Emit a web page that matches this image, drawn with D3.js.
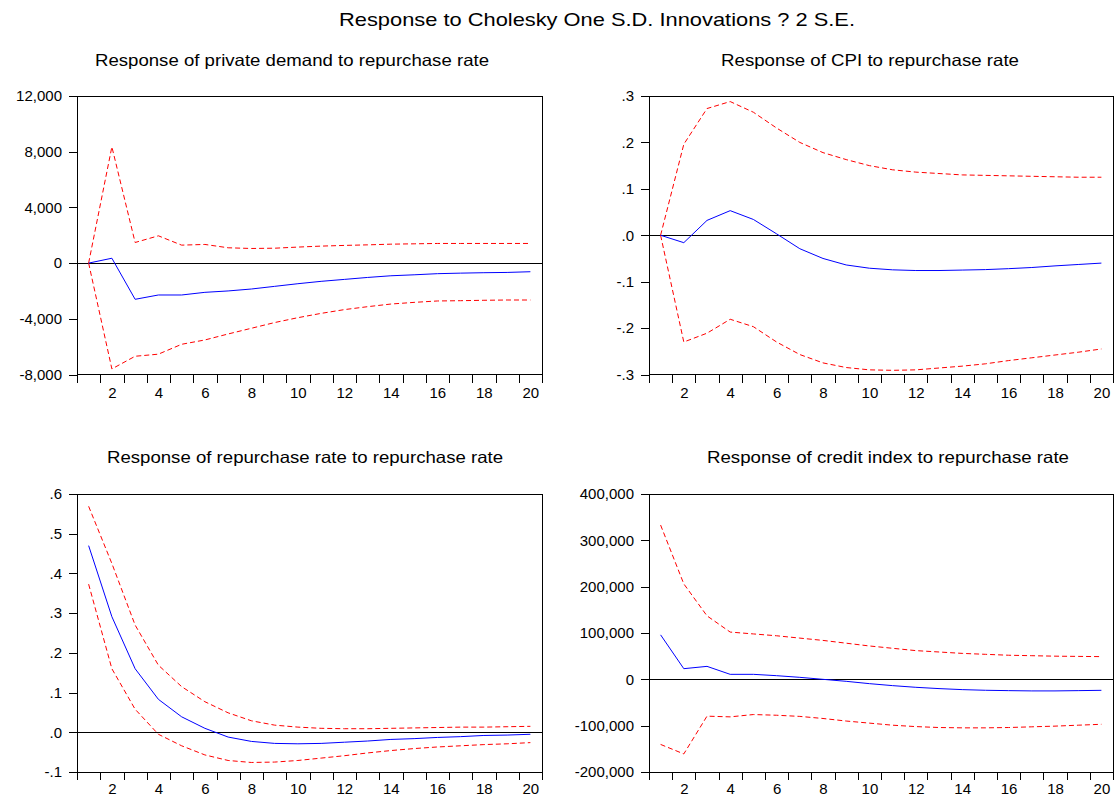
<!DOCTYPE html>
<html>
<head>
<meta charset="utf-8">
<script src="https://cdn.jsdelivr.net/npm/d3@7/dist/d3.min.js"></script>
<style>
  html, body { margin: 0; padding: 0; background: #fff; }
  svg { display: block; font-family: "Liberation Sans", Arial, sans-serif; }
</style>
</head>
<body>
<svg id="chart" width="1114" height="797"></svg>
<script>
// Impulse horizon
const periods = d3.range(1, 21);

// Response of private demand to repurchase rate
const pdResp  = [0, 350, -2600, -2290, -2290, -2100, -2000, -1860, -1670, -1480, -1310, -1170, -1030, -910, -840, -760, -720, -690, -670, -620];
const pdUpper = [0, 8350, 1480, 1960, 1290, 1340, 1100, 1050, 1070, 1150, 1220, 1270, 1310, 1360, 1385, 1410, 1410, 1410, 1410, 1410];
const pdLower = [0, -7600, -6690, -6540, -5830, -5520, -5090, -4680, -4270, -3920, -3610, -3340, -3130, -2940, -2820, -2720, -2700, -2670, -2650, -2650];
const pdTicks = [-8000, -4000, 0, 4000, 8000, 12000];
const pdTickLabels = ["-8,000", "-4,000", "0", "4,000", "8,000", "12,000"];

// Response of CPI to repurchase rate
const cpiResp  = [0, -0.016, 0.032, 0.053, 0.034, 0.003, -0.029, -0.050, -0.064, -0.071, -0.0745, -0.076, -0.076, -0.075, -0.074, -0.072, -0.0695, -0.066, -0.063, -0.060];
const cpiUpper = [0, 0.196, 0.273, 0.288, 0.265, 0.231, 0.200, 0.178, 0.163, 0.150, 0.141, 0.136, 0.133, 0.130, 0.129, 0.128, 0.127, 0.126, 0.125, 0.125];
const cpiLower = [0, -0.230, -0.211, -0.181, -0.197, -0.230, -0.257, -0.275, -0.285, -0.290, -0.291, -0.290, -0.286, -0.282, -0.277, -0.270, -0.264, -0.258, -0.252, -0.245];
const cpiTicks = [-0.3, -0.2, -0.1, 0, 0.1, 0.2, 0.3];
const cpiTickLabels = ["-.3", "-.2", "-.1", ".0", ".1", ".2", ".3"];

// Response of repurchase rate to repurchase rate
const rrResp  = [0.470, 0.291, 0.160, 0.083, 0.039, 0.010, -0.012, -0.023, -0.028, -0.029, -0.028, -0.025, -0.022, -0.018, -0.016, -0.013, -0.011, -0.008, -0.007, -0.005];
const rrUpper = [0.569, 0.425, 0.270, 0.169, 0.115, 0.077, 0.049, 0.029, 0.018, 0.013, 0.010, 0.009, 0.009, 0.010, 0.011, 0.012, 0.013, 0.013, 0.014, 0.015];
const rrLower = [0.373, 0.160, 0.058, -0.005, -0.034, -0.057, -0.071, -0.076, -0.075, -0.071, -0.065, -0.059, -0.052, -0.046, -0.041, -0.037, -0.034, -0.031, -0.029, -0.026];
const rrTicks = [-0.1, 0, 0.1, 0.2, 0.3, 0.4, 0.5, 0.6];
const rrTickLabels = ["-.1", ".0", ".1", ".2", ".3", ".4", ".5", ".6"];

// Response of credit index to repurchase rate
const ciResp  = [96000, 23000, 28000, 10800, 10800, 7900, 4300, 0, -4300, -9300, -13600, -17200, -20000, -22200, -23600, -24400, -25000, -25000, -24400, -23700];
const ciUpper = [333000, 206000, 137000, 102000, 98000, 94000, 89000, 84000, 78000, 72000, 67000, 62000, 59000, 56000, 54000, 52000, 51000, 50000, 49500, 49000];
const ciLower = [-140500, -161000, -79500, -81000, -76000, -77500, -80000, -84500, -90000, -94500, -99000, -102000, -104000, -104700, -104700, -104000, -102500, -101000, -99000, -97000];
const ciTicks = [-200000, -100000, 0, 100000, 200000, 300000, 400000];
const ciTickLabels = ["-200,000", "-100,000", "0", "100,000", "200,000", "300,000", "400,000"];

const xLabelTicks = [2, 4, 6, 8, 10, 12, 14, 16, 18, 20];

const mainTitle = "Response to Cholesky One S.D. Innovations ? 2 S.E.";

const panels = [
  { title: "Response of private demand to repurchase rate", resp: pdResp, upper: pdUpper, lower: pdLower,
    ticks: pdTicks, labels: pdTickLabels, box: { x0: 77, x1: 542, y0: 96, y1: 374.5 },
    titleX: 292, titleY: 65.5, titleW: 394, labelPad: 13 },
  { title: "Response of CPI to repurchase rate", resp: cpiResp, upper: cpiUpper, lower: cpiLower,
    ticks: cpiTicks, labels: cpiTickLabels, box: { x0: 649, x1: 1113, y0: 96, y1: 374.5 },
    titleX: 870, titleY: 65.5, titleW: 298, labelPad: 13 },
  { title: "Response of repurchase rate to repurchase rate", resp: rrResp, upper: rrUpper, lower: rrLower,
    ticks: rrTicks, labels: rrTickLabels, box: { x0: 77, x1: 542, y0: 494, y1: 772 },
    titleX: 305, titleY: 463, titleW: 396, labelPad: 11 },
  { title: "Response of credit index to repurchase rate", resp: ciResp, upper: ciUpper, lower: ciLower,
    ticks: ciTicks, labels: ciTickLabels, box: { x0: 649, x1: 1113, y0: 494, y1: 772 },
    titleX: 888, titleY: 463, titleW: 362, labelPad: 11 }
];

const svg = d3.select("#chart");

svg.append("text")
  .attr("x", 597).attr("y", 26)
  .attr("text-anchor", "middle")
  .attr("font-size", 19)
  .attr("textLength", 516)
  .attr("lengthAdjust", "spacingAndGlyphs")
  .attr("fill", "#000")
  .text(mainTitle);

panels.forEach(p => {
  const b = p.box;
  const g = svg.append("g");

  // each period occupies one band; points sit at band centres
  const x = d3.scaleLinear().domain([0.5, 20.5]).range([b.x0, b.x1]);
  const y = d3.scaleLinear().domain([p.ticks[0], p.ticks[p.ticks.length - 1]]).range([b.y1, b.y0]);

  g.append("text")
    .attr("x", p.titleX).attr("y", p.titleY)
    .attr("text-anchor", "middle")
    .attr("font-size", 16.5)
    .attr("textLength", p.titleW)
    .attr("lengthAdjust", "spacingAndGlyphs")
    .attr("fill", "#000")
    .text(p.title);

  // band boundary ticks along the bottom
  const xTickAxis = d3.axisBottom(x)
    .tickValues(d3.range(0.5, 21, 1))
    .tickSize(8).tickSizeOuter(0).tickFormat("");
  g.append("g").attr("transform", `translate(0,${b.y1})`).call(xTickAxis)
    .call(s => s.select(".domain").remove())
    .call(s => s.selectAll("line").attr("stroke", "#000").attr("shape-rendering", "crispEdges"));

  // period labels
  const xLabelAxis = d3.axisBottom(x)
    .tickValues(xLabelTicks).tickSize(0).tickPadding(p.labelPad).tickSizeOuter(0);
  g.append("g").attr("transform", `translate(0,${b.y1})`).call(xLabelAxis)
    .call(s => s.select(".domain").remove())
    .call(s => s.selectAll("text").attr("font-size", 15).attr("font-family", null).attr("fill", "#000"));

  // value axis
  const yAxis = d3.axisLeft(y)
    .tickValues(p.ticks)
    .tickFormat((d, i) => p.labels[i])
    .tickSize(8).tickPadding(7).tickSizeOuter(0);
  g.append("g").attr("transform", `translate(${b.x0},0)`).call(yAxis)
    .call(s => s.select(".domain").remove())
    .call(s => s.selectAll("line").attr("stroke", "#000").attr("shape-rendering", "crispEdges"))
    .call(s => s.selectAll("text").attr("font-size", 15).attr("font-family", null).attr("fill", "#000"));

  // zero reference line
  g.append("line")
    .attr("x1", b.x0).attr("x2", b.x1)
    .attr("y1", y(0)).attr("y2", y(0))
    .attr("stroke", "#000").attr("stroke-width", 1)
    .attr("shape-rendering", "crispEdges");

  const line = d3.line()
    .x((d, i) => x(periods[i]))
    .y(d => y(d));

  g.append("path").datum(p.upper)
    .attr("d", line).attr("fill", "none")
    .attr("stroke", "#ff0000").attr("stroke-width", 1)
    .attr("stroke-dasharray", "5,3");
  g.append("path").datum(p.lower)
    .attr("d", line).attr("fill", "none")
    .attr("stroke", "#ff0000").attr("stroke-width", 1)
    .attr("stroke-dasharray", "5,3");
  g.append("path").datum(p.resp)
    .attr("d", line).attr("fill", "none")
    .attr("stroke", "#0000ff").attr("stroke-width", 1);

  // plot frame
  g.append("rect")
    .attr("x", b.x0).attr("y", b.y0)
    .attr("width", b.x1 - b.x0).attr("height", b.y1 - b.y0)
    .attr("fill", "none").attr("stroke", "#000").attr("stroke-width", 1)
    .attr("shape-rendering", "crispEdges");
});
</script>
</body>
</html>
